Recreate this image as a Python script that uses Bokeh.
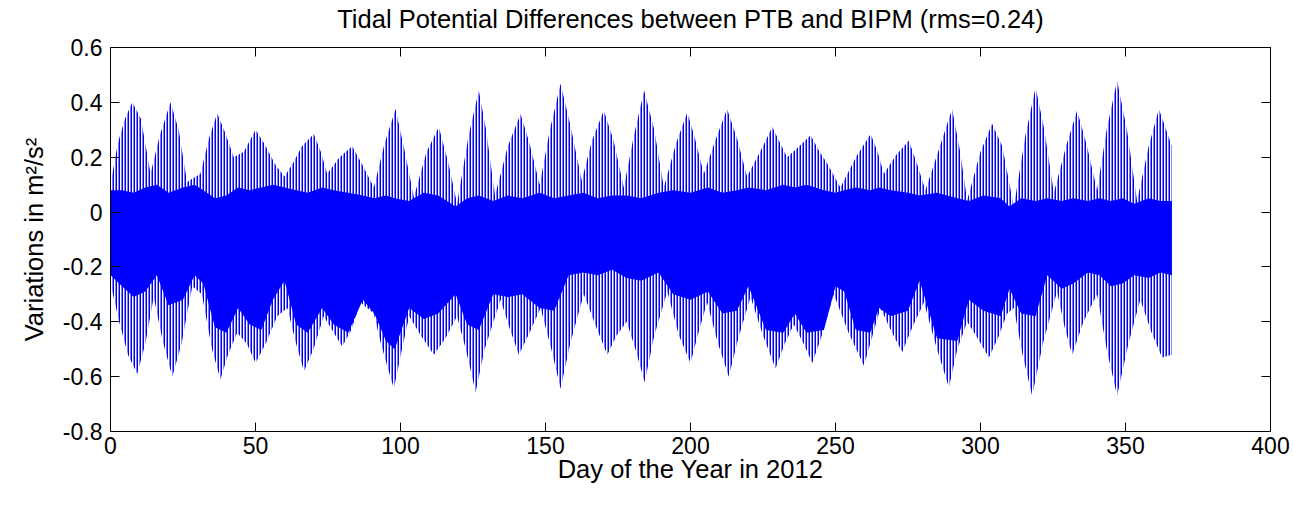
from bokeh.plotting import figure
from bokeh.models import Range1d, FixedTicker, LinearAxis
from bokeh.embed import file_html
from bokeh.resources import INLINE

# ---- data ----
title_text = "Tidal Potential Differences between PTB and BIPM (rms=0.24)"
x_label = "Day of the Year in 2012"
y_label = "Variations in m\u00b2/s\u00b2"

x_ticks = [0, 50, 100, 150, 200, 250, 300, 350, 400]
x_tick_labels = ["0", "50", "100", "150", "200", "250", "300", "350", "400"]
y_ticks = [-0.8, -0.6, -0.4, -0.2, 0, 0.2, 0.4, 0.6]
y_tick_labels = ["-0.8", "-0.6", "-0.4", "-0.2", "0", "0.2", "0.4", "0.6"]

# upper envelope of the tidal signal (daily highs)
upper_day = [0, 2.5, 5, 7.5, 10.5, 13.8, 17, 20.7, 23.5, 26.4, 31, 34, 36.8, 39.5, 42.5, 46,
             50, 53, 57, 60, 63, 66, 70.1, 72.5, 74.7, 79, 83.3, 87, 90.8, 94.5, 98.3, 101.5,
             104.6, 109, 113.2, 116.5, 119.5, 123.5, 127, 129.5, 132.6, 137, 141.4, 144.5, 148,
             151.5, 155.2, 158.5, 162.5, 166, 170.1, 173.5, 177, 180.5, 184, 187.5, 190.8, 195,
             198.9, 201.5, 204.6, 208.5, 212.6, 216, 219.5, 224, 228.2, 230.5, 233.3, 237.5,
             241.4, 244.5, 247, 251.7, 257, 262.1, 264.5, 266.7, 271, 275.3, 278, 281, 286,
             290.2, 293, 295.4, 300, 304, 307.5, 311.5, 315.5, 319, 322, 325.3, 329.5, 333.3,
             336.5, 340.2, 343.5, 347.1, 350.5, 354, 358, 361.5, 366]
upper_val = [0.10, 0.25, 0.34, 0.40, 0.34, 0.14, 0.28, 0.40, 0.30, 0.11, 0.14, 0.27, 0.36, 0.29, 0.20, 0.22,
             0.30, 0.25, 0.17, 0.13, 0.18, 0.24, 0.285, 0.22, 0.14, 0.20, 0.24, 0.17, 0.09, 0.25, 0.376, 0.22,
             0.054, 0.22, 0.31, 0.18, 0.03, 0.28, 0.443, 0.30, 0.06, 0.24, 0.358, 0.25, 0.10,
             0.30, 0.468, 0.32, 0.115, 0.26, 0.37, 0.26, 0.09, 0.28, 0.443, 0.30, 0.09, 0.25,
             0.364, 0.27, 0.14, 0.26, 0.376, 0.27, 0.13, 0.22, 0.31, 0.26, 0.20, 0.24,
             0.28, 0.22, 0.18, 0.09, 0.20, 0.285, 0.22, 0.14, 0.21, 0.26, 0.18, 0.08, 0.24,
             0.376, 0.22, 0.043, 0.22, 0.322, 0.24, 0.02, 0.28, 0.455, 0.30, 0.07, 0.24, 0.37,
             0.25, 0.08, 0.30, 0.48, 0.30, 0.04, 0.24, 0.376, 0.24]

# lower envelope of the tidal signal (daily lows)
lower_day = [0, 3, 6, 9.2, 12, 14.9, 18, 21.3, 24.5, 28.2, 31.5, 35, 37.9, 40.5, 43.7, 47, 50,
             53.5, 57.5, 61, 64, 66.7, 70, 73.5, 77, 79.9, 83, 86.2, 90.8, 93, 95.4, 97.7, 100.5,
             103, 107, 111.5, 115.5, 119.5, 122.5, 125.9, 129, 134.5, 137.5, 140.8, 144.5, 148.3,
             152, 155.2, 158.5, 163.2, 167.5, 171.3, 174.5, 178, 181, 184.2, 187.5, 192, 196, 200,
             203, 205.7, 209.5, 213.2, 216.5, 220.7, 225, 229.3, 232.5, 235.6, 239, 242, 245,
             249.4, 254.5, 259.8, 262.5, 265.5, 269.5, 273, 276.5, 280.5, 285, 289.1, 292, 295.4,
             299, 302.9, 306, 309.2, 311.5, 314.5, 317.8, 321.5, 326.4, 329, 331.6, 335.5, 340.2,
             343.5, 347.1, 351, 355.1, 359, 362.6, 366]
lower_val = [-0.26, -0.40, -0.52, -0.59, -0.48, -0.31, -0.47, -0.60, -0.48, -0.27, -0.30, -0.50, -0.61, -0.52, -0.44, -0.48, -0.55,
             -0.48, -0.38, -0.35, -0.48, -0.58, -0.50, -0.38, -0.44, -0.49, -0.43, -0.33, -0.37, -0.47, -0.56, -0.644, -0.50,
             -0.38, -0.45, -0.52, -0.46, -0.38, -0.50, -0.657, -0.50, -0.32, -0.42, -0.52, -0.44, -0.35,
             -0.50, -0.644, -0.48, -0.30, -0.42, -0.52, -0.45, -0.40, -0.50, -0.62, -0.45, -0.29, -0.45, -0.55,
             -0.43, -0.33, -0.48, -0.60, -0.46, -0.31, -0.45, -0.57, -0.48, -0.41, -0.48, -0.55, -0.46,
             -0.30, -0.44, -0.56, -0.46, -0.35, -0.44, -0.51, -0.42, -0.33, -0.50, -0.64, -0.50, -0.40,
             -0.46, -0.53, -0.46, -0.37, -0.35, -0.52, -0.67, -0.48, -0.29, -0.42, -0.52, -0.40, -0.30,
             -0.50, -0.67, -0.48, -0.32, -0.44, -0.53, -0.52]

# dense core of the signal (where the trace fills solidly)
band_day = [0, 4, 8, 12, 16, 20, 25, 29, 32, 36, 40, 44, 48, 52, 56, 60, 64, 68, 73, 77, 82, 87, 91,
            95, 98, 103, 108, 113, 119, 123, 127, 132, 137, 142, 148, 153, 158, 163, 168, 173, 178,
            183, 189, 194, 200, 206, 211, 216, 220, 226, 232, 236, 240, 246, 250, 253, 257, 262, 265,
            269, 275, 279, 285, 292, 296, 301, 307, 310, 314, 319, 323, 328, 332, 337, 341, 345, 349,
            353, 358, 362, 366]
band_top = [0.08, 0.08, 0.07, 0.09, 0.10, 0.07, 0.09, 0.10, 0.08, 0.05, 0.06, 0.09, 0.08, 0.09, 0.10, 0.09, 0.08, 0.07, 0.09, 0.08, 0.07, 0.06, 0.05,
            0.06, 0.05, 0.04, 0.07, 0.06, 0.02, 0.05, 0.06, 0.04, 0.06, 0.05, 0.07, 0.05, 0.06, 0.07, 0.05, 0.06, 0.06,
            0.05, 0.07, 0.08, 0.07, 0.09, 0.07, 0.08, 0.09, 0.08, 0.10, 0.09, 0.10, 0.08, 0.07, 0.08, 0.09, 0.08, 0.09,
            0.08, 0.07, 0.06, 0.07, 0.05, 0.04, 0.06, 0.05, 0.02, 0.05, 0.04, 0.05, 0.04, 0.05, 0.04, 0.05, 0.04, 0.05,
            0.03, 0.05, 0.04, 0.04]
band_bot = [-0.23, -0.27, -0.31, -0.29, -0.23, -0.34, -0.32, -0.23, -0.26, -0.42, -0.44, -0.35, -0.41, -0.43, -0.32, -0.25, -0.41, -0.44, -0.35, -0.41, -0.44, -0.32, -0.37,
            -0.47, -0.50, -0.35, -0.39, -0.37, -0.30, -0.41, -0.43, -0.30, -0.31, -0.30, -0.35, -0.36, -0.23, -0.22, -0.23, -0.21, -0.24,
            -0.25, -0.22, -0.30, -0.32, -0.29, -0.37, -0.36, -0.27, -0.43, -0.44, -0.37, -0.44, -0.43, -0.27, -0.29, -0.43, -0.44, -0.35,
            -0.38, -0.36, -0.25, -0.46, -0.47, -0.32, -0.36, -0.38, -0.28, -0.37, -0.38, -0.23, -0.28, -0.26, -0.22, -0.23, -0.27, -0.26,
            -0.23, -0.24, -0.22, -0.23]

# ---- figure ----
FONT = "Liberation Sans"
BLUE = "#0000ff"

p = figure(width=1293, height=505, output_backend="svg", toolbar_location=None,
           x_range=Range1d(0, 400), y_range=Range1d(-0.8, 0.6),
           min_border_left=110, min_border_right=23, min_border_top=47, min_border_bottom=74,
           x_axis_label=x_label, y_axis_label=y_label)
p.xgrid.visible = False
p.ygrid.visible = False
p.outline_line_color = "black"
p.outline_line_width = 1
p.background_fill_color = "white"
p.border_fill_color = "white"

env_x = upper_day + lower_day[::-1]
env_y = upper_val + lower_val[::-1]
p.patch(env_x, env_y, fill_color=None, line_color=None,
        hatch_pattern="vertical_line", hatch_color=BLUE, hatch_scale=3, hatch_weight=2)
p.varea(x=band_day, y1=band_bot, y2=band_top, fill_color=BLUE)

def style_axis(ax, ticks, labels, show_labels=True):
    ax.ticker = FixedTicker(ticks=ticks)
    ax.major_label_overrides = {t: l for t, l in zip(ticks, labels)}
    ax.major_tick_in = 9
    ax.major_tick_out = 0
    ax.minor_tick_in = 0
    ax.minor_tick_out = 0
    ax.axis_line_color = "black"
    ax.major_tick_line_color = "black"
    ax.major_label_text_font = FONT
    ax.major_label_text_font_size = "23px" if show_labels else "0px"
    ax.major_label_text_color = "black"
    ax.axis_label_text_font = FONT
    ax.axis_label_text_font_size = "25.5px"
    ax.axis_label_text_font_style = "normal"
    ax.axis_label_text_color = "black"

style_axis(p.xaxis[0], x_ticks, x_tick_labels)
style_axis(p.yaxis[0], y_ticks, y_tick_labels)
p.xaxis[0].major_label_standoff = 5
p.xaxis[0].axis_label_standoff = -2
p.yaxis[0].major_label_standoff = 8
p.yaxis[0].axis_label_standoff = 12

# top axis carries the chart title, centred over the frame
top_ax = LinearAxis(axis_label=title_text)
right_ax = LinearAxis()
style_axis(top_ax, x_ticks, ["" for _ in x_ticks], show_labels=False)
style_axis(right_ax, y_ticks, ["" for _ in y_ticks], show_labels=False)
top_ax.major_label_standoff = 0
top_ax.axis_label_standoff = 15
right_ax.major_label_standoff = 0
p.add_layout(top_ax, "above")
p.add_layout(right_ax, "right")

open("out.html", "w").write(file_html(p, INLINE))
